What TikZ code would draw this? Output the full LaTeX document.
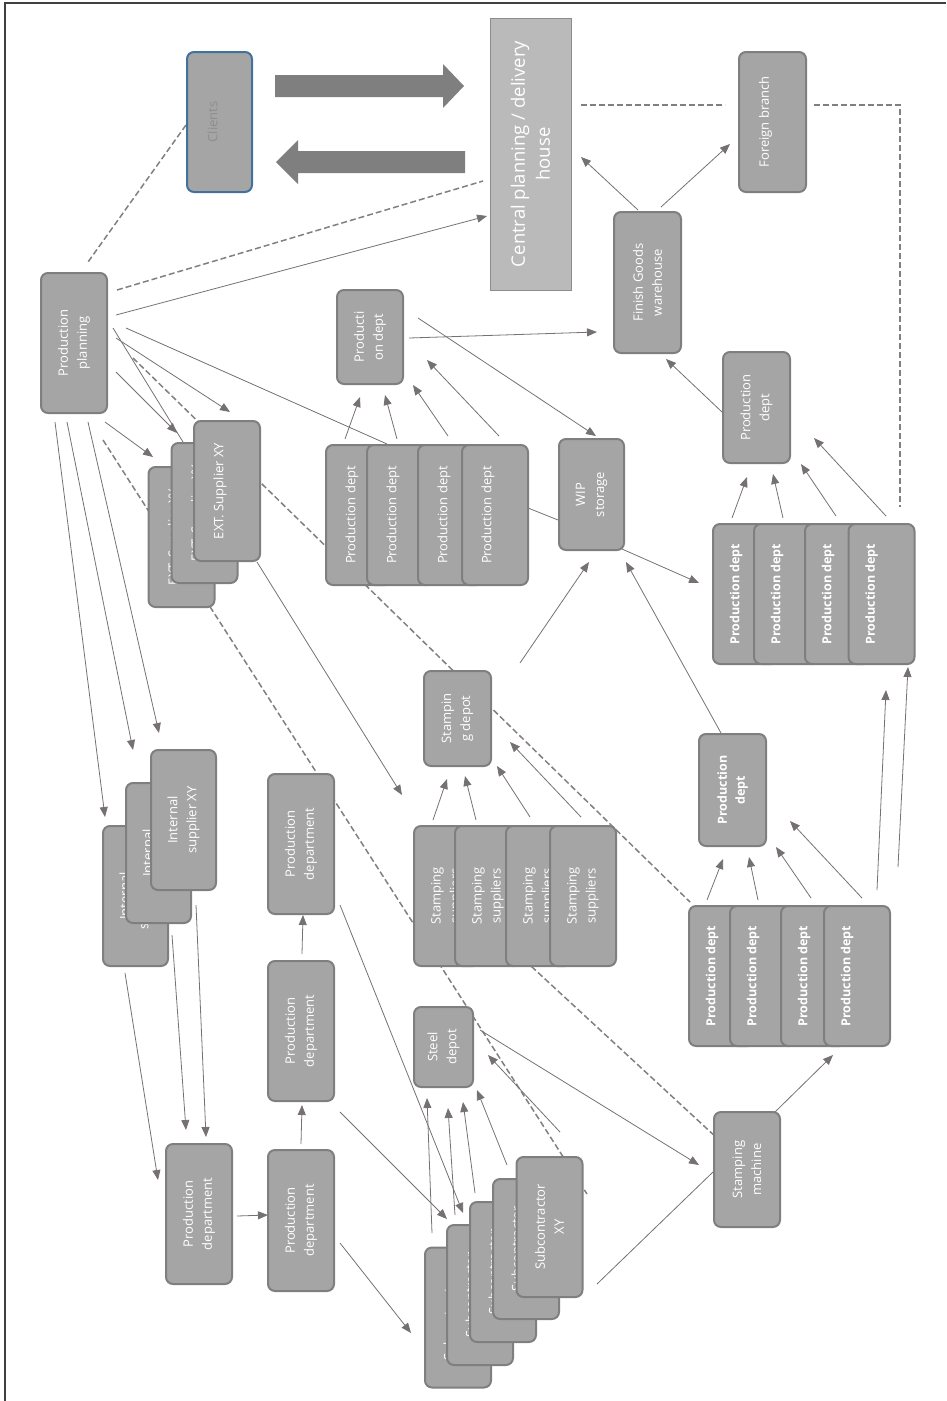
\documentclass[tikz,border=0pt]{standalone}
\usepackage{fontspec}
\setmainfont{Open Sans}
\usetikzlibrary{arrows.meta,calc}
\pgfdeclarelayer{back}
\pgfsetlayers{back,main}

\definecolor{boxfill}{HTML}{A5A5A5}
\definecolor{boxline}{HTML}{7F7F7F}
\definecolor{centralfill}{HTML}{BABABA}
\definecolor{centralline}{HTML}{8C8C8C}
\definecolor{clientblue}{HTML}{41719C}
\definecolor{clienttext}{HTML}{8E8E8E}
\definecolor{linkgray}{HTML}{767171}
\definecolor{dashgray}{HTML}{808080}
\definecolor{bigarrow}{HTML}{7F7F7F}
\definecolor{framecol}{HTML}{404040}

% raise the glyphs without changing the reported box size
\newcommand\shiftup[2]{\raisebox{#1}[\height][\depth]{#2}}

\tikzset{
  box/.style={draw=boxline, fill=boxfill, line width=2pt, rounded corners=7pt,
    rotate=90, text=white, align=center, inner sep=0pt,
    font=\fontsize{13}{19}\selectfont},
  bbox/.style={box, font=\fontsize{12.5}{18}\selectfont\bfseries},
  cbox/.style={draw=centralline, fill=centralfill, line width=0.8pt, rotate=90,
    text=white, align=center, inner sep=0pt,
    font=\fontsize{18.5}{25}\selectfont},
  link/.style={draw=linkgray, line width=0.8pt},
  arr/.style={link, -{Triangle[length=10pt,width=8pt]}},
  dline/.style={draw=dashgray, line width=1.5pt, dash pattern=on 6pt off 3pt},
  fat/.style={fill=bigarrow, draw=none}
}

\begin{document}
\begin{tikzpicture}[x=1pt,y=-1pt]
\useasboundingbox (0,0) rectangle (946,1401);

% outer frame
\draw[framecol, line width=1.5pt] (5,1401) -- (5,3) -- (946,3);

% ---------- upper part ----------
\node[box, draw=clientblue, text=clienttext, minimum width=140pt, minimum height=65pt]
  (clients) at (219.5,122) {\shiftup{7pt}{Clients}};
\node[cbox, minimum width=272pt, minimum height=81pt]
  (central) at (530.5,154) {Central planning / delivery\\house};
\node[box, minimum width=140pt, minimum height=67pt]
  (foreign) at (772.5,122) {\shiftup{7pt}{Foreign branch}};
\node[box, minimum width=141pt, minimum height=67pt]
  (fg) at (647.5,282.5) {Finish Goods\\warehouse};
\node[box, minimum width=111pt, minimum height=67pt]
  (pdR) at (756.5,407.5) {Production\\dept};
\node[box, minimum width=94pt, minimum height=66pt]
  (pdon) at (370,337) {Producti\\on dept};
\node[box, minimum width=111pt, minimum height=65pt]
  (wip) at (591.5,494.5) {WIP\\storage};
\node[box, minimum width=140pt, minimum height=66pt]
  (planning) at (74,343) {Production\\planning};

% production dept stack under "Producti on dept"
\foreach \n/\x in {T1/359, T2/400, T3/451, T4/495}
  \node[box, minimum width=140pt, minimum height=66pt]
    (\n) at (\x,515) {\shiftup{7pt}{Production dept}};

% production dept stack under the right "Production dept"
\foreach \n/\x in {U1/746, U2/787, U3/838, U4/881.5}
  \node[bbox, minimum width=140pt, minimum height=66pt]
    (\n) at (\x,594) {\shiftup{10pt}{Production dept}};

\node[bbox, minimum width=112pt, minimum height=67pt]
  (pdM) at (732.5,790) {Production\\dept};

\foreach \n/\x in {L1/722, L2/763, L3/814, L4/857}
  \node[bbox, minimum width=140pt, minimum height=66pt]
    (\n) at (\x,976) {\shiftup{10pt}{Production dept}};

\node[box, minimum width=115pt, minimum height=66pt]
  (stampmach) at (747,1169.5) {Stamping\\machine};

% external suppliers
\foreach \n/\x/\y in {E1/181.5/537, E2/204.5/513, E3/227/491}
  \node[box, minimum width=140pt, minimum height=66pt]
    (\n) at (\x,\y) {\shiftup{7pt}{EXT. Supplier XY}};

\node[box, minimum width=95pt, minimum height=67pt]
  (sdepot) at (457.5,718.5) {Stampin\\g depot};

\foreach \n/\x in {S1/447, S2/488, S3/539, S4/583}
  \node[box, minimum width=140pt, minimum height=66pt]
    (\n) at (\x,896) {Stamping\\suppliers};

% internal suppliers
\foreach \n/\x/\y in {I1/135.5/896, I2/158.5/853, I3/183.5/820}
  \node[box, minimum width=140pt, minimum height=65pt]
    (\n) at (\x,\y) {Internal\\supplier XY};

% production departments
\node[box, minimum width=140pt, minimum height=66pt] (PDa) at (301,844) {Production\\department};
\node[box, minimum width=140pt, minimum height=66pt] (PDb) at (301,1031) {Production\\department};
\node[box, minimum width=141pt, minimum height=66pt] (PDc) at (301,1220.5) {Production\\department};
\node[box, minimum width=140pt, minimum height=66pt] (PDd) at (199,1214) {Production\\department};

\node[box, minimum width=80pt, minimum height=59pt] (steel) at (443.5,1047) {Steel\\depot};

% subcontractors
\foreach \n/\x/\y in {C1/458/1317.5, C2/480/1295, C3/503/1272, C4/526/1249, C5/549.5/1227}
  \node[box, minimum width=140pt, minimum height=66pt]
    (\n) at (\x,\y) {Subcontractor\\XY};

% big flow arrows between clients and the central house
\fill[fat] (275,75) -- (443,75) -- (443,64) -- (464,86) -- (443,108) -- (443,97) -- (275,97) -- cycle;
\fill[fat] (465,151) -- (298,151) -- (298,140) -- (276,162) -- (298,184) -- (298,173) -- (465,173) -- cycle;

% ---------- connectors ----------
\begin{pgfonlayer}{back}
% dashed information links
\draw[dline] ($(clients)+(-33.5,3)$) -- ($(planning)+(14,-81)$);
\draw[dline] ($(planning)+(43,-53)$) -- ($(central)+(-47.5,27)$);
\draw[dline] ($(central)+(50.5,-49)$) -- ($(foreign)+(-47.5,-17)$);
\draw[dline] ($(foreign)+(41.5,-17)$) -| ($(U4)+(18.5,-87)$);
\draw[dline] ($(planning)+(59,15)$) -- ($(L1)+(-32,-74)$);
\draw[dline] ($(planning)+(29,97)$) -- ($(C5)+(37.5,-33)$);
\draw[dline] ($(S2)+(17,46)$) -- ($(stampmach)+(-30,-31.5)$);

% from production planning
\draw[arr] ($(planning)+(42,-28)$) -- ($(central)+(-43.5,62)$);
\draw[link] ($(planning)+(52,-15)$) -- ($(T2)+(-13,-71)$);
\draw[link] ($(planning)+(39,-15)$) -- ($(E2)+(-21.5,-71)$);
\draw[arr] ($(planning)+(42,-5)$) -- ($(E3)+(3,-79)$);
\draw[arr] ($(planning)+(42,29)$) -- ($(E2)+(-27.5,-80)$);
\draw[arr] ($(planning)+(31,79)$) -- ($(E1)+(-28.5,-80)$);
\draw[arr] ($(planning)+(-19,79)$) -- ($(I1)+(-30.5,-79)$);
\draw[arr] ($(planning)+(-7,79)$) -- ($(I2)+(-25.5,-103)$);
\draw[arr] ($(planning)+(14,79)$) -- ($(I3)+(-24.5,-87)$);

% finished goods
\draw[arr] ($(fg)+(-9.5,-72.5)$) -- ($(central)+(50.5,3)$);
\draw[arr] ($(fg)+(13.5,-75.5)$) -- ($(foreign)+(-42.5,22)$);
\draw[arr] ($(pdR)+(-34.5,4.5)$) -- ($(fg)+(18.5,76.5)$);
\draw[arr] ($(pdon)+(39,1)$) -- ($(fg)+(-50.5,49.5)$);
\draw[arr] ($(pdon)+(48,-19)$) -- ($(wip)+(4.5,-58.5)$);

% stack to "Producti on dept"
\draw[arr] ($(T1)+(-14,-76)$) -- ($(pdon)+(-10,60)$);
\draw[arr] ($(T2)+(-3,-76)$) -- ($(pdon)+(15,58)$);
\draw[arr] ($(T3)+(-3,-79)$) -- ($(pdon)+(43,48)$);
\draw[arr] ($(T4)+(4,-79)$) -- ($(pdon)+(57,23)$);
\draw[link] ($(T4)+(33,-7)$) -- ($(wip)+(-33.5,25.5)$);

% WIP storage
\draw[arr] ($(wip)+(30.5,54.5)$) -- ($(U1)+(-47,-11)$);
\draw[arr] ($(sdepot)+(62.5,-55.5)$) -- ($(wip)+(-2.5,67.5)$);
\draw[arr] ($(pdM)+(-11.5,-57)$) -- ($(wip)+(34.5,67.5)$);

% upper right stack to production dept
\draw[arr] ($(U1)+(-14,-76)$) -- ($(pdR)+(-9.5,69.5)$);
\draw[arr] ($(U2)+(-4,-76)$) -- ($(pdR)+(16.5,66.5)$);
\draw[arr] ($(U3)+(-2,-78)$) -- ($(pdR)+(44.5,56.5)$);
\draw[arr] ($(U4)+(4.5,-78)$) -- ($(pdR)+(57.5,30.5)$);

% lower right stack
\draw[arr] ($(L1)+(-15,-76)$) -- ($(pdM)+(-9.5,69)$);
\draw[arr] ($(L2)+(-5,-76)$) -- ($(pdM)+(16.5,67)$);
\draw[arr] ($(L3)+(-3,-78)$) -- ($(pdM)+(43.5,57)$);
\draw[arr] ($(L4)+(5,-78)$) -- ($(pdM)+(57.5,31)$);
\draw[arr] ($(L4)+(20,-86)$) -- ($(U4)+(4.5,96)$);
\draw[arr] ($(L4)+(41,-109)$) -- ($(U4)+(26.5,73)$);

% stamping machine
\draw[arr] ($(stampmach)+(28,-57.5)$) -- ($(L4)+(-24,79)$);
\draw[link] ($(C5)+(47.5,57)$) -- ($(stampmach)+(-34,2.5)$);
\draw[arr] ($(steel)+(36.5,-17)$) -- ($(stampmach)+(-48,-4.5)$);

% stamping suppliers
\draw[arr] ($(E3)+(30,71)$) -- ($(S1)+(-45,-101)$);
\draw[arr] ($(S1)+(-14,-76)$) -- ($(sdepot)+(-10.5,60.5)$);
\draw[arr] ($(S2)+(-12,-76)$) -- ($(sdepot)+(7.5,57.5)$);
\draw[arr] ($(S3)+(-9,-79)$) -- ($(sdepot)+(39.5,47.5)$);
\draw[arr] ($(S4)+(-2,-79)$) -- ($(sdepot)+(52.5,23.5)$);

% internal suppliers to production department
\draw[arr] ($(I1)+(-10.5,77)$) -- ($(PDd)+(-41,-34)$);
\draw[arr] ($(I2)+(13.5,82)$) -- ($(PDd)+(-13,-84)$);
\draw[arr] ($(I3)+(12.5,85)$) -- ($(PDd)+(7,-77)$);

% production department chain
\draw[arr] ($(PDd)+(38,2)$) -- ($(PDc)+(-33,-5.5)$);
\draw[arr] ($(PDc)+(0,-76.5)$) -- ($(PDb)+(1,74)$);
\draw[arr] ($(PDb)+(1,-77)$) -- ($(PDa)+(2,71)$);
\draw[arr] ($(PDa)+(39,61)$) -- ($(C2)+(-17,-82)$);
\draw[arr] ($(PDb)+(39,81)$) -- ($(C2)+(-33,-76)$);
\draw[arr] ($(PDc)+(39,22.5)$) -- ($(C1)+(-47,15.5)$);

% subcontractors to steel depot
\draw[arr] ($(C1)+(-26,-84.5)$) -- ($(steel)+(-16.5,51)$);
\draw[arr] ($(C2)+(-25,-80)$) -- ($(steel)+(4.5,61)$);
\draw[arr] ($(C3)+(-28,-79)$) -- ($(steel)+(19.5,55)$);
\draw[arr] ($(C4)+(-19,-84)$) -- ($(steel)+(33.5,43)$);
\draw[arr] ($(C5)+(10.5,-95)$) -- ($(steel)+(44.5,8)$);
\end{pgfonlayer}
\end{tikzpicture}
\end{document}
